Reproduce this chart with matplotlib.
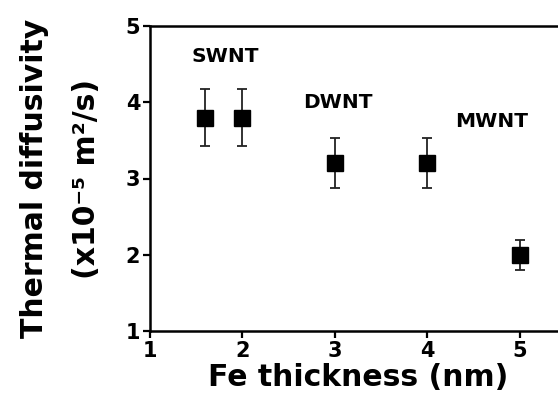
import matplotlib
matplotlib.use("Agg")
import matplotlib.pyplot as plt

# values
fe_thickness = [1.6, 2.0, 3.0, 4.0, 5.0]
diffusivity = [3.8, 3.8, 3.2, 3.2, 2.0]
diffusivity_err = [0.37, 0.37, 0.33, 0.33, 0.2]

group_labels = ["SWNT", "DWNT", "MWNT"]
label_x = [1.81, 3.03, 4.7]
label_y = [4.6, 4.0, 3.75]

x_ticks = [1, 2, 3, 4, 5]
y_ticks = [1, 2, 3, 4, 5]

plt.rcParams.update({
    "font.family": "DejaVu Sans",
    "font.weight": "bold",
})

fig = plt.figure(figsize=(5.58, 4.12), dpi=100)
ax = fig.add_axes([150 / 558, 81 / 412, 416 / 558, 305 / 412])

ax.errorbar(fe_thickness, diffusivity, yerr=diffusivity_err, fmt="s",
            color="black", ecolor="#222222", markersize=11,
            elinewidth=1.3, capsize=3.5, capthick=1.3)

for text, x, y in zip(group_labels, label_x, label_y):
    ax.text(x, y, text, ha="center", va="center", fontsize=14.5, fontweight="bold")

ax.set_xlim(1, 5.5)
ax.set_ylim(1, 5)
ax.set_xticks(x_ticks)
ax.set_yticks(y_ticks)
for side in ax.spines.values():
    side.set_linewidth(1.8)
ax.spines["right"].set_visible(False)
ax.tick_params(direction="out", length=5, width=1.6, labelsize=15, pad=2)

ax.set_xlabel("Fe thickness (nm)", fontsize=21.5, fontweight="bold", labelpad=2)
ax.set_ylabel("Thermal diffusivity\n(x10\u207b\u2075 m\u00b2/s)", fontsize=21.5,
              fontweight="bold", linespacing=2.0, labelpad=18)

fig.savefig("out.png", dpi=100)
